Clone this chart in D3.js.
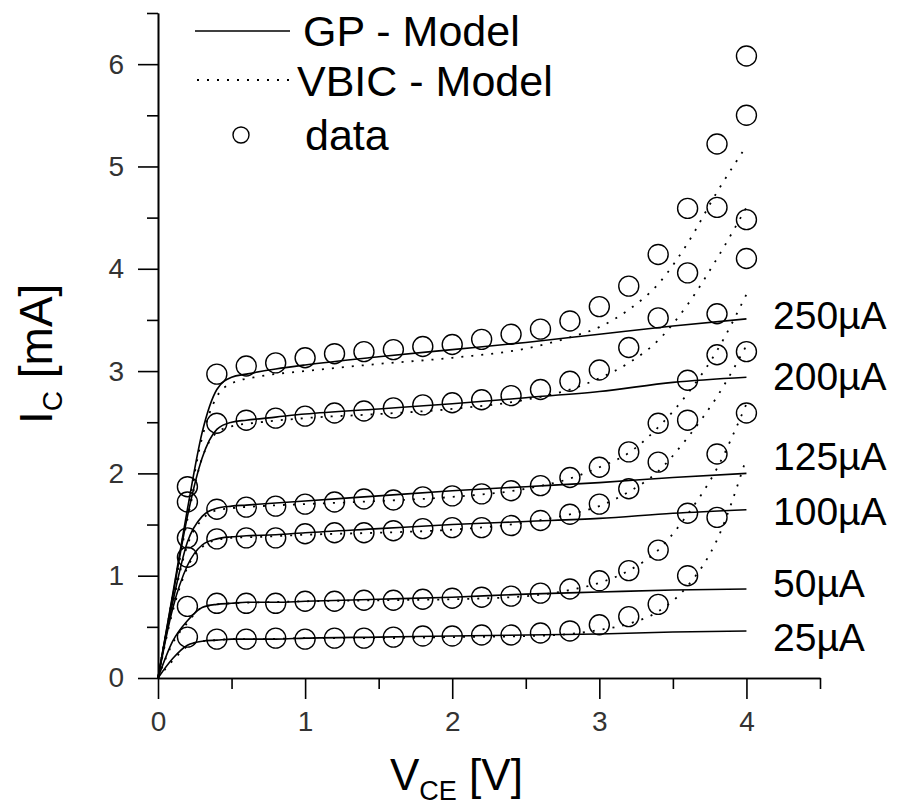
<!DOCTYPE html>
<html>
<head>
<meta charset="utf-8">
<script src="https://cdn.jsdelivr.net/npm/d3@7"></script>
<style>
  body { margin: 0; background: #fff; }
  svg { font-family: "Liberation Sans", Arial, sans-serif; }
  .axis path, .axis line { stroke: #000; stroke-width: 1.6; }
  .axis text { font-size: 28px; fill: #333; }
  .gp { fill: none; stroke: #000; stroke-width: 1.6; }
  .vbic { fill: none; stroke: #000; stroke-width: 1.8; stroke-dasharray: 2,8; }
  .dot { fill: none; stroke: #000; stroke-width: 1.4; }
</style>
</head>
<body>
<svg width="900" height="810"></svg>
<script>
// base currents (curve labels)
var currents = ["25µA", "50µA", "100µA", "125µA", "200µA", "250µA"];
// where each label sits (mA)
var labelAt = [0.40, 0.93, 1.63, 2.17, 2.95, 3.55];

// measured data, V_CE [V]
var dataV = [0.2, 0.4, 0.6, 0.8, 1.0, 1.2, 1.4, 1.6, 1.8, 2.0,
             2.2, 2.4, 2.6, 2.8, 3.0, 3.2, 3.4, 3.6, 3.8, 4.0];
var data25  = [0.40, 0.38, 0.38, 0.39, 0.38, 0.39, 0.39, 0.40, 0.41, 0.41,
               0.42, 0.42, 0.44, 0.46, 0.52, 0.60, 0.72, 1.00, 1.57, 2.59];
var data50  = [0.70, 0.73, 0.73, 0.73, 0.75, 0.75, 0.76, 0.76, 0.77, 0.78,
               0.79, 0.80, 0.83, 0.87, 0.95, 1.05, 1.25, 1.61, 2.19, 3.19];
var data100 = [1.18, 1.36, 1.37, 1.37, 1.41, 1.42, 1.42, 1.44, 1.46, 1.47,
               1.47, 1.49, 1.54, 1.60, 1.70, 1.85, 2.11, 2.52, 3.16, 4.10];
var data125 = [1.37, 1.65, 1.67, 1.68, 1.70, 1.72, 1.75, 1.74, 1.77, 1.78,
               1.80, 1.83, 1.88, 1.96, 2.06, 2.21, 2.49, 2.91, 3.56, 4.48];
var data200 = [1.72, 2.49, 2.52, 2.54, 2.56, 2.59, 2.61, 2.64, 2.67, 2.69,
               2.72, 2.76, 2.82, 2.90, 3.01, 3.23, 3.52, 3.96, 4.60, 5.50];
var data250 = [1.87, 2.97, 3.05, 3.08, 3.13, 3.17, 3.19, 3.21, 3.24, 3.26,
               3.31, 3.36, 3.41, 3.49, 3.63, 3.83, 4.14, 4.59, 5.22, 6.08];

// GP model
var gpV = [0, 0.1, 0.2, 0.3, 0.4, 0.5, 0.6, 0.8, 1.0, 1.5, 2.0, 2.5, 3.0, 3.5, 4.0];
var gp25  = [0, 0.19, 0.32, 0.36, 0.37, 0.38, 0.38, 0.38, 0.39, 0.40, 0.41, 0.42, 0.43, 0.45, 0.46];
var gp50  = [0, 0.36, 0.56, 0.69, 0.72, 0.73, 0.74, 0.74, 0.75, 0.77, 0.79, 0.82, 0.84, 0.86, 0.87];
var gp100 = [0, 0.68, 1.10, 1.30, 1.36, 1.38, 1.39, 1.40, 1.42, 1.46, 1.50, 1.53, 1.56, 1.61, 1.645];
var gp125 = [0, 0.74, 1.33, 1.58, 1.66, 1.68, 1.69, 1.71, 1.73, 1.78, 1.83, 1.87, 1.91, 1.96, 2.00];
var gp200 = [0, 0.80, 1.58, 2.15, 2.43, 2.50, 2.52, 2.55, 2.58, 2.63, 2.68, 2.74, 2.80, 2.89, 2.94];
var gp250 = [0, 0.82, 1.65, 2.40, 2.82, 2.94, 2.97, 3.02, 3.06, 3.14, 3.21, 3.28, 3.36, 3.44, 3.51];

// VBIC model
var vbicV = [0, 0.1, 0.2, 0.3, 0.4, 0.5, 0.7, 1.0, 1.5, 2.0, 2.5, 2.8, 3.0, 3.2, 3.4, 3.6, 3.8, 4.0];
var vbic25  = [0, 0.17, 0.31, 0.36, 0.37, 0.38, 0.38, 0.39, 0.39, 0.40, 0.41, 0.43, 0.47, 0.53, 0.65, 0.90, 1.35, 2.15];
var vbic50  = [0, 0.34, 0.54, 0.69, 0.72, 0.73, 0.74, 0.75, 0.76, 0.77, 0.80, 0.86, 0.93, 1.05, 1.25, 1.60, 2.05, 2.68];
var vbic100 = [0, 0.65, 1.08, 1.28, 1.35, 1.37, 1.38, 1.40, 1.42, 1.45, 1.52, 1.60, 1.68, 1.82, 2.02, 2.35, 2.75, 3.25];
var vbic125 = [0, 0.72, 1.30, 1.55, 1.64, 1.66, 1.68, 1.70, 1.73, 1.77, 1.85, 1.95, 2.06, 2.20, 2.45, 2.78, 3.20, 3.75];
var vbic200 = [0, 0.78, 1.55, 2.15, 2.40, 2.46, 2.50, 2.54, 2.58, 2.63, 2.72, 2.82, 2.93, 3.08, 3.30, 3.65, 4.10, 4.60];
var vbic250 = [0, 0.80, 1.62, 2.35, 2.75, 2.88, 2.95, 3.00, 3.07, 3.13, 3.22, 3.33, 3.43, 3.60, 3.85, 4.25, 4.75, 5.20];

var dataSets = [data25, data50, data100, data125, data200, data250];
var gpSets = [gp25, gp50, gp100, gp125, gp200, gp250];
var vbicSets = [vbic25, vbic50, vbic100, vbic125, vbic200, vbic250];

var svg = d3.select("svg");
var x = d3.scaleLinear().domain([0, 4.5]).range([158, 820]);
var y = d3.scaleLinear().domain([0, 6.5]).range([678, 13]);

// axes: major ticks with labels, minor ticks between
function minorTicks(max) { return d3.range(0.5, max + 0.01, 1); }

svg.append("g")
  .attr("class", "axis")
  .attr("transform", "translate(0,678)")
  .call(d3.axisBottom(x).tickValues([0, 1, 2, 3, 4]).tickFormat(d3.format("d"))
    .tickSize(21).tickSizeOuter(0).tickPadding(12));
svg.append("g")
  .attr("class", "axis")
  .attr("transform", "translate(0,678)")
  .call(d3.axisBottom(x).tickValues(minorTicks(4.5)).tickFormat("").tickSize(11).tickSizeOuter(0));

svg.append("g")
  .attr("class", "axis")
  .attr("transform", "translate(158,0)")
  .call(d3.axisLeft(y).tickValues([0, 1, 2, 3, 4, 5, 6]).tickFormat(d3.format("d"))
    .tickSize(20).tickSizeOuter(0).tickPadding(14));
svg.append("g")
  .attr("class", "axis")
  .attr("transform", "translate(158,0)")
  .call(d3.axisLeft(y).tickValues(minorTicks(6.5)).tickFormat("").tickSize(11).tickSizeOuter(0));

// model lines
var modelLine = d3.line()
  .x(function(d) { return x(d[0]); })
  .y(function(d) { return y(d[1]); })
  .curve(d3.curveMonotoneX);

gpSets.forEach(function(s) {
  svg.append("path").attr("class", "gp")
    .datum(gpV.map(function(v, i) { return [v, s[i]]; }))
    .attr("d", modelLine);
});
vbicSets.forEach(function(s) {
  svg.append("path").attr("class", "vbic")
    .datum(vbicV.map(function(v, i) { return [v, s[i]]; }))
    .attr("d", modelLine);
});

// measured points
dataSets.forEach(function(s) {
  svg.append("g").selectAll("circle")
    .data(dataV.map(function(v, i) { return [v, s[i]]; }))
    .enter().append("circle")
    .attr("class", "dot")
    .attr("cx", function(d) { return x(d[0]); })
    .attr("cy", function(d) { return y(d[1]); })
    .attr("r", 10);
});

// curve labels
svg.append("g").selectAll("text")
  .data(currents)
  .enter().append("text")
  .attr("x", 773)
  .attr("y", function(d, i) { return y(labelAt[i]); })
  .attr("dy", "0.36em")
  .style("font-size", "39px")
  .text(function(d) { return d; });

// legend
var legend = svg.append("g").style("font-size", "43px");
legend.append("line").attr("class", "gp").attr("x1", 195).attr("x2", 290).attr("y1", 31).attr("y2", 31);
legend.append("text").attr("x", 303).attr("y", 46).text("GP - Model");
legend.append("line").attr("class", "vbic").attr("x1", 197).attr("x2", 290).attr("y1", 80).attr("y2", 80);
legend.append("text").attr("x", 297).attr("y", 96).text("VBIC - Model");
legend.append("circle").attr("class", "dot").attr("cx", 241).attr("cy", 135).attr("r", 8);
legend.append("text").attr("x", 305).attr("y", 150).text("data");

// axis titles
var xt = svg.append("text").attr("x", 390).attr("y", 790).style("font-size", "44px");
xt.append("tspan").text("V");
xt.append("tspan").attr("dy", 10).style("font-size", "27px").text("CE");
xt.append("tspan").attr("dy", -10).text(" [V]");

var yt = svg.append("text")
  .attr("transform", "translate(52,424)rotate(-90)")
  .style("font-size", "46px");
yt.append("tspan").text("I");
yt.append("tspan").attr("dy", 10).style("font-size", "28px").text("C");
yt.append("tspan").attr("dy", -10).text(" [mA]");
</script>
</body>
</html>
